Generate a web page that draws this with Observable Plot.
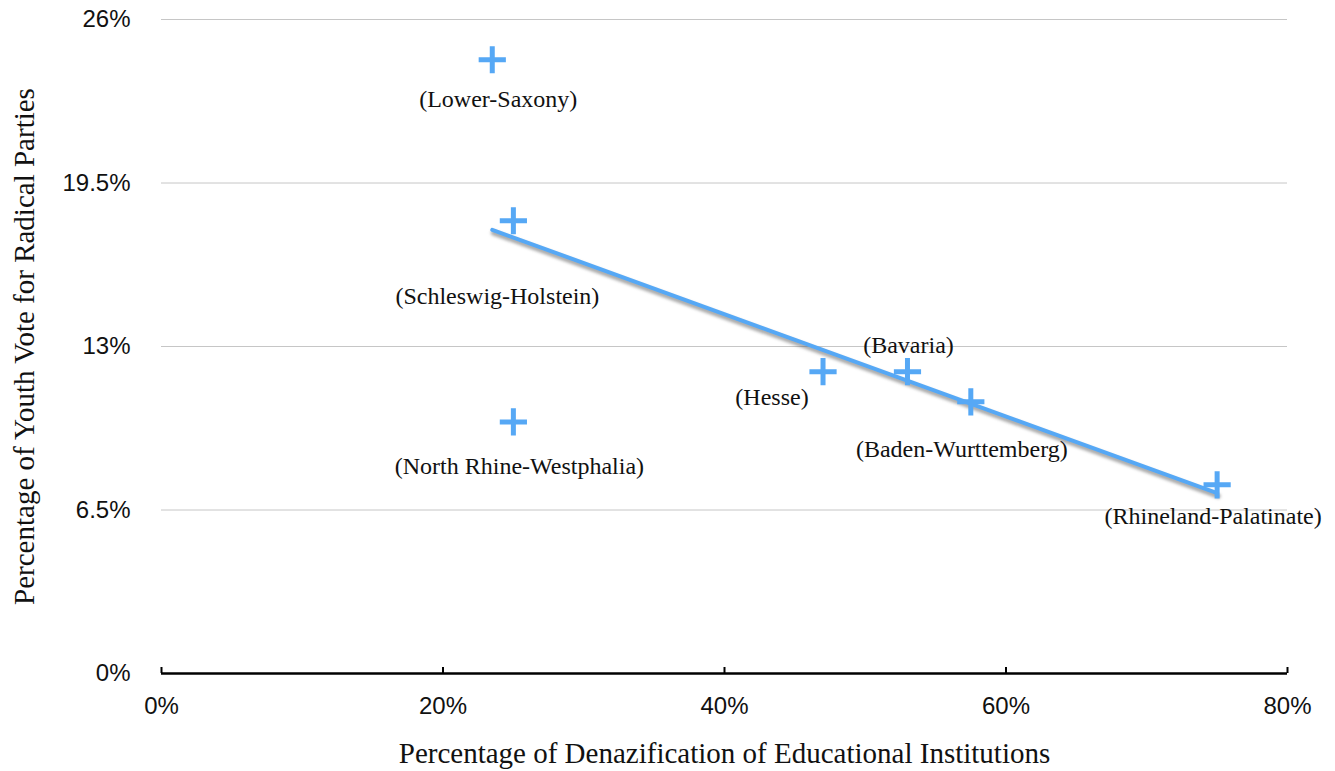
<!DOCTYPE html>
<html>
<head>
<meta charset="utf-8">
<script src="https://cdn.jsdelivr.net/npm/d3@7"></script>
<script src="https://cdn.jsdelivr.net/npm/@observablehq/plot@0.6"></script>
<style>
  html, body { margin: 0; padding: 0; background: #ffffff; }
  #chart { width: 1335px; height: 771px; }
</style>
</head>
<body>
<div id="chart"></div>
<script>
// ---- data ----
const states = ["Lower-Saxony", "Schleswig-Holstein", "North Rhine-Westphalia", "Hesse", "Bavaria", "Baden-Wurttemberg", "Rhineland-Palatinate"];
const denazification = [23.5, 25.0, 25.0, 47.0, 53.0, 57.5, 75.0];   // % (x)
const youthRadicalVote = [24.4, 18.0, 10.0, 12.0, 12.0, 10.8, 7.5];   // % (y)
const xTicks = [0, 20, 40, 60, 80];
const yTicks = [0, 6.5, 13, 19.5, 26];
const xTitle = "Percentage of Denazification of Educational Institutions";
const yTitle = "Percentage of Youth Vote for Radical Parties";

const data = states.map((s, i) => ({state: s, x: denazification[i], y: youthRadicalVote[i]}));

// label placement (layout only)
const labelOffset = {
  "Lower-Saxony": [6, 40],
  "Schleswig-Holstein": [-16, 76],
  "North Rhine-Westphalia": [6, 44],
  "Hesse": [-51, 26],
  "Bavaria": [1, -26],
  "Baden-Wurttemberg": [-9, 47],
  "Rhineland-Palatinate": [-4, 31]
};

const blue = "#56a8f5";
const sans = "'Liberation Sans', Arial, Helvetica, sans-serif";
const serif = "'Liberation Serif', 'Times New Roman', serif";

const labelMarks = data.map(d => Plot.text([d], {
  x: "x", y: "y", text: r => `(${r.state})`,
  dx: labelOffset[d.state][0], dy: labelOffset[d.state][1],
  fontFamily: serif, fontSize: 24, fill: "#111"
}));

const chart = Plot.plot({
  width: 1335,
  height: 771,
  marginLeft: 161,
  marginRight: 48,
  marginTop: 19,
  marginBottom: 98,
  style: {background: "#ffffff", overflow: "visible"},
  x: {domain: [0, 80]},
  y: {domain: [0, 26]},
  marks: [
    Plot.gridY(yTicks.filter(t => t > 0), {stroke: "#c6c6c6", strokeOpacity: 1, strokeWidth: 1}),
    Plot.axisY(yTicks, {tickFormat: d => d + "%", tickSize: 0, tickPadding: 31, fontSize: 24, fontFamily: sans, fill: "#111", label: null}),
    Plot.axisX(xTicks, {tickSize: 6, dy: -6, text: null, stroke: "#000", strokeWidth: 2, label: null}),
    Plot.axisX(xTicks, {tickFormat: d => d + "%", tickSize: 0, tickPadding: 23, fontSize: 24, fontFamily: sans, fill: "#111", label: null}),
    Plot.ruleY([0], {stroke: "#000", strokeWidth: 2.5}),
    // regression shadow
    Plot.linearRegressionY(data, {x: "x", y: "y", ci: 0, stroke: "#555", strokeOpacity: 0.5, strokeWidth: 5, dx: 1, dy: 3}),
    // regression line
    Plot.linearRegressionY(data, {x: "x", y: "y", ci: 0, stroke: blue, strokeWidth: 4}),
    Plot.dot(data, {x: "x", y: "y", symbol: "plus", r: 8.8, stroke: blue, strokeWidth: 5}),
    ...labelMarks,
    Plot.text([xTitle], {frameAnchor: "bottom", dy: 89, fontFamily: serif, fontSize: 29, fill: "#111"}),
    Plot.text([yTitle], {frameAnchor: "left", textAnchor: "middle", rotate: -90, dx: -137, fontFamily: serif, fontSize: 29, fill: "#111"})
  ]
});

const regs = chart.querySelectorAll('g[aria-label="linear-regression"]');
if (regs.length) regs[0].style.filter = "blur(1.5px)";

document.getElementById("chart").appendChild(chart);
</script>
</body>
</html>
